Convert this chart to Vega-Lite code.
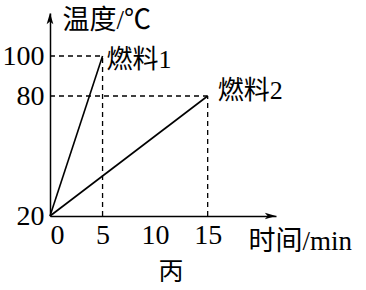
{
  "$schema": "https://vega.github.io/schema/vega-lite/v6.json",
  "autosize": "none",
  "width": 226,
  "height": 203,
  "padding": {"left": 50, "top": 13, "right": 90, "bottom": 74},
  "background": "white",
  "config": {
    "view": {"stroke": null},
    "font": "Liberation Serif, Noto Sans CJK SC",
    "axis": {"grid": false, "ticks": false, "domainColor": "black", "domainWidth": 1.5, "labelColor": "black", "titleColor": "black", "labelFont": "Liberation Serif", "titleFont": "Liberation Serif, Noto Sans CJK SC", "titleFontWeight": "normal", "labelFontSize": 28, "titleFontSize": 27}
  },
  "layer": [
    {
      "data": {"values": [
        {"x": 0, "y": 100, "x2": 5, "y2": 100},
        {"x": 5, "y": 20, "x2": 5, "y2": 100},
        {"x": 0, "y": 80, "x2": 15, "y2": 80},
        {"x": 15, "y": 20, "x2": 15, "y2": 80}
      ]},
      "mark": {"type": "rule", "color": "black", "strokeWidth": 1.3, "strokeDash": [5, 4]},
      "encoding": {
        "x": {"field": "x", "type": "quantitative", "scale": {"domain": [0, 21.5], "nice": false, "zero": false},
          "axis": {"values": [0, 5, 10, 15], "labelPadding": 5, "title": "时间/min", "titleX": 198, "titleY": 25, "titleAlign": "left", "titleBaseline": "middle", "titleAngle": 0}},
        "y": {"field": "y", "type": "quantitative", "scale": {"domain": [20, 121.5], "nice": false, "zero": false},
          "axis": {"values": [20, 80, 100], "labelPadding": 6, "title": "温度/℃", "titleX": 12, "titleY": 7, "titleAlign": "left", "titleBaseline": "middle", "titleAngle": 0}},
        "x2": {"field": "x2"},
        "y2": {"field": "y2"}
      }
    },
    {
      "data": {"values": [
        {"fuel": "燃料1", "t": 0, "T": 20},
        {"fuel": "燃料1", "t": 5, "T": 100},
        {"fuel": "燃料2", "t": 0, "T": 20},
        {"fuel": "燃料2", "t": 15, "T": 80}
      ]},
      "mark": {"type": "line", "color": "black", "strokeWidth": 1.6},
      "encoding": {
        "x": {"field": "t", "type": "quantitative"},
        "y": {"field": "T", "type": "quantitative"},
        "detail": {"field": "fuel"}
      }
    },
    {
      "data": {"values": [{"t": 5, "T": 100, "label": "燃料1"}]},
      "mark": {"type": "text", "align": "left", "baseline": "middle", "dx": 4, "dy": 4, "fontSize": 26, "color": "black"},
      "encoding": {"x": {"field": "t", "type": "quantitative"}, "y": {"field": "T", "type": "quantitative"}, "text": {"field": "label"}}
    },
    {
      "data": {"values": [{"t": 15, "T": 80, "label": "燃料2"}]},
      "mark": {"type": "text", "align": "left", "baseline": "middle", "dx": 10, "dy": -5, "fontSize": 26, "color": "black"},
      "encoding": {"x": {"field": "t", "type": "quantitative"}, "y": {"field": "T", "type": "quantitative"}, "text": {"field": "label"}}
    },
    {
      "data": {"values": [{"t": 11.5, "T": -8, "label": "丙"}]},
      "mark": {"type": "text", "align": "center", "baseline": "middle", "fontSize": 25, "color": "black", "font": "Noto Sans CJK SC"},
      "encoding": {"x": {"field": "t", "type": "quantitative"}, "y": {"field": "T", "type": "quantitative"}, "text": {"field": "label"}}
    },
    {
      "data": {"values": [{"t": 21.5, "T": 20}]},
      "mark": {"type": "point", "filled": true, "color": "black", "opacity": 1, "size": 500, "shape": "M0,0L-1,-0.3L-0.75,0L-1,0.3Z", "clip": false},
      "encoding": {"x": {"field": "t", "type": "quantitative"}, "y": {"field": "T", "type": "quantitative"}}
    },
    {
      "data": {"values": [{"t": 0, "T": 121.5}]},
      "mark": {"type": "point", "filled": true, "color": "black", "opacity": 1, "size": 500, "shape": "M0,0L-0.3,1L0,0.75L0.3,1Z", "clip": false},
      "encoding": {"x": {"field": "t", "type": "quantitative"}, "y": {"field": "T", "type": "quantitative"}}
    }
  ]
}
